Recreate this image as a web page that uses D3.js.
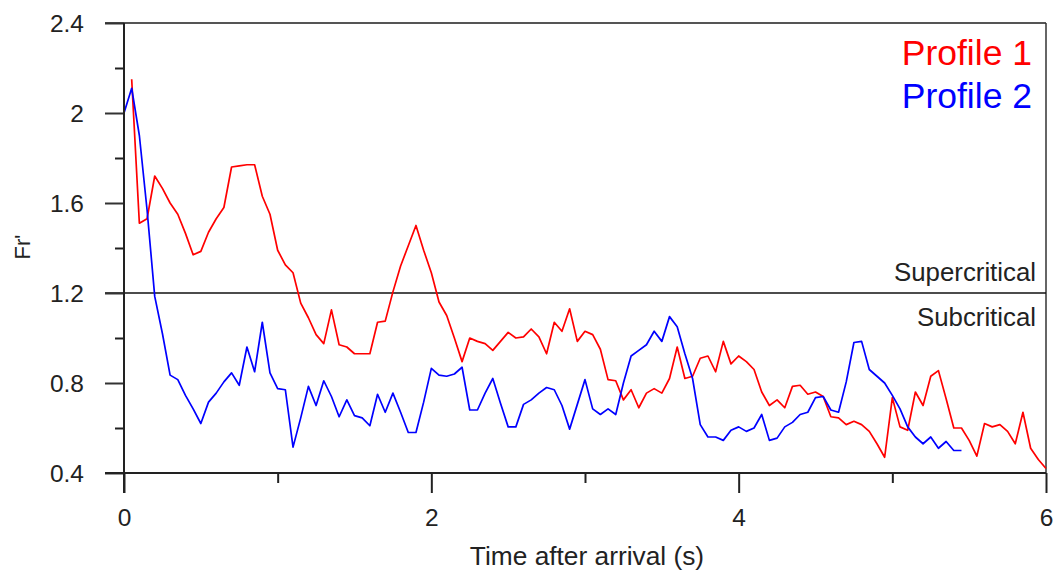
<!DOCTYPE html>
<html>
<head>
<meta charset="utf-8">
<script src="https://cdn.jsdelivr.net/npm/d3@7"></script>
<style>
  html, body { margin: 0; padding: 0; background: #fff; }
  svg { display: block; font-family: "Liberation Sans", Arial, sans-serif; }
</style>
</head>
<body>
<svg id="chart" width="1054" height="574"></svg>
<script>
// ---- data ----
const profile1Time = [0.05,0.10,0.15,0.20,0.25,0.30,0.35,0.40,0.45,0.50,0.55,0.60,0.65,0.70,0.75,0.80,0.85,0.90,0.95,1.00,
  1.05,1.10,1.15,1.20,1.25,1.30,1.35,1.40,1.45,1.50,1.55,1.60,1.65,1.70,1.75,1.80,1.85,1.90,1.95,2.00,
  2.05,2.10,2.15,2.20,2.25,2.30,2.35,2.40,2.45,2.50,2.55,2.60,2.65,2.70,2.75,2.80,2.85,2.90,2.95,3.00,
  3.05,3.10,3.15,3.20,3.25,3.30,3.35,3.40,3.45,3.50,3.55,3.60,3.65,3.70,3.75,3.80,3.85,3.90,3.95,4.00,
  4.05,4.10,4.15,4.20,4.25,4.30,4.35,4.40,4.45,4.50,4.55,4.60,4.65,4.70,4.75,4.80,4.85,4.90,4.95,5.00,
  5.05,5.10,5.15,5.20,5.25,5.30,5.35,5.40,5.45,5.50,5.55,5.60,5.65,5.70,5.75,5.80,5.85,5.90,5.95,6.00];
const profile1Values = [2.15,1.51,1.53,1.72,1.665,1.60,1.55,1.465,1.37,1.385,1.47,1.53,1.58,1.76,1.765,1.77,1.77,1.63,1.55,1.39,
  1.325,1.29,1.155,1.09,1.015,0.975,1.125,0.97,0.96,0.93,0.93,0.93,1.07,1.075,1.205,1.32,1.41,1.50,1.39,1.29,
  1.16,1.10,1.00,0.895,1.00,0.985,0.975,0.945,0.985,1.025,1.00,1.005,1.04,1.005,0.93,1.07,1.03,1.13,0.985,1.03,
  1.015,0.95,0.815,0.81,0.725,0.77,0.69,0.755,0.775,0.755,0.82,0.96,0.82,0.83,0.91,0.92,0.85,0.985,0.885,0.92,
  0.895,0.86,0.76,0.70,0.725,0.69,0.785,0.79,0.75,0.76,0.74,0.65,0.645,0.615,0.63,0.615,0.585,0.53,0.47,0.735,
  0.605,0.59,0.76,0.70,0.83,0.855,0.73,0.60,0.60,0.545,0.475,0.62,0.605,0.615,0.585,0.53,0.67,0.51,0.46,0.42];

const profile2Time = [0.00,0.05,0.10,0.15,0.20,0.25,0.30,0.35,0.40,0.45,0.50,0.55,0.60,0.65,0.70,0.75,0.80,0.85,0.90,0.95,1.00,
  1.05,1.10,1.15,1.20,1.25,1.30,1.35,1.40,1.45,1.50,1.55,1.60,1.65,1.70,1.75,1.80,1.85,1.90,1.95,2.00,
  2.05,2.10,2.15,2.20,2.25,2.30,2.35,2.40,2.45,2.50,2.55,2.60,2.65,2.70,2.75,2.80,2.85,2.90,2.95,3.00,
  3.05,3.10,3.15,3.20,3.25,3.30,3.35,3.40,3.45,3.50,3.55,3.60,3.65,3.70,3.75,3.80,3.85,3.90,3.95,4.00,
  4.05,4.10,4.15,4.20,4.25,4.30,4.35,4.40,4.45,4.50,4.55,4.60,4.65,4.70,4.75,4.80,4.85,4.90,4.95,5.00,
  5.05,5.10,5.15,5.20,5.25,5.30,5.35,5.40,5.45];
const profile2Values = [2.00,2.11,1.90,1.57,1.185,1.02,0.835,0.815,0.745,0.685,0.62,0.715,0.755,0.805,0.845,0.79,0.96,0.85,1.07,0.845,0.775,
  0.77,0.515,0.645,0.785,0.70,0.81,0.74,0.65,0.725,0.655,0.645,0.61,0.75,0.67,0.755,0.67,0.58,0.58,0.715,0.865,
  0.835,0.83,0.84,0.87,0.68,0.68,0.755,0.82,0.71,0.605,0.605,0.705,0.725,0.755,0.78,0.77,0.70,0.595,0.705,0.815,
  0.685,0.66,0.685,0.66,0.80,0.92,0.945,0.97,1.03,0.985,1.095,1.05,0.93,0.82,0.615,0.56,0.56,0.545,0.59,0.605,
  0.585,0.60,0.66,0.545,0.555,0.605,0.625,0.66,0.67,0.735,0.74,0.68,0.67,0.805,0.98,0.985,0.86,0.83,0.80,0.745,
  0.685,0.605,0.56,0.53,0.56,0.51,0.54,0.50,0.50];

const seriesNames = ["Profile 1", "Profile 2"];
const seriesColors = ["#ff0000", "#0000ff"];
const yTickValues = [0.4, 0.8, 1.2, 1.6, 2.0, 2.4];
const yTickLabels = ["0.4", "0.8", "1.2", "1.6", "2", "2.4"];
const yMinorTicks = [0.6, 1.0, 1.4, 1.8, 2.2];
const xTickValues = [0, 2, 4, 6];
const xMinorTicks = [1, 3, 5];
const criticalValue = 1.2;
const regionLabels = ["Supercritical", "Subcritical"];
const xTitle = "Time after arrival (s)";
const yTitle = "Fr'";

// ---- layout ----
const svg = d3.select("#chart");
const L = 124, R = 1046, T = 23, B = 473;
const x = d3.scaleLinear().domain([0, 6]).range([L, R]);
const y = d3.scaleLinear().domain([0.4, 2.4]).range([B, T]);
const font = "'Liberation Sans', Arial, sans-serif";

// frame: top & right
svg.append("line").attr("x1", 105).attr("x2", R).attr("y1", T).attr("y2", T)
  .attr("stroke", "#555").attr("stroke-width", 2);
svg.append("line").attr("x1", R).attr("x2", R).attr("y1", T).attr("y2", B)
  .attr("stroke", "#333").attr("stroke-width", 1.5);

// critical line
svg.append("line").attr("x1", 105).attr("x2", R).attr("y1", y(criticalValue)).attr("y2", y(criticalValue))
  .attr("stroke", "#111").attr("stroke-width", 1.5);

// y axis (major)
const yAxis = d3.axisLeft(y).tickValues(yTickValues).tickSize(19).tickPadding(21)
  .tickFormat((d, i) => yTickLabels[i]);
const gy = svg.append("g").attr("transform", `translate(${L},0)`).call(yAxis);
gy.select(".domain").remove();
gy.selectAll(".tick line").attr("stroke", "#333").attr("stroke-width", 2);
gy.selectAll(".tick text").attr("font-family", font).attr("font-size", 24.5).attr("fill", "#222")
  .attr("dy", "0.35em");
// minor y ticks
const yAxisMinor = d3.axisLeft(y).tickValues(yMinorTicks).tickSize(9).tickFormat("");
const gym = svg.append("g").attr("transform", `translate(${L},0)`).call(yAxisMinor);
gym.select(".domain").remove();
gym.selectAll(".tick line").attr("stroke", "#222").attr("stroke-width", 2);

// x axis (major)
const xAxis = d3.axisBottom(x).tickValues(xTickValues).tickSize(20).tickPadding(16)
  .tickFormat(d3.format("d"));
const gx = svg.append("g").attr("transform", `translate(0,${B})`).call(xAxis);
gx.select(".domain").remove();
gx.selectAll(".tick line").attr("stroke", "#222").attr("stroke-width", 2);
gx.selectAll(".tick text").attr("font-family", font).attr("font-size", 24.5).attr("fill", "#222");
const xAxisMinor = d3.axisBottom(x).tickValues(xMinorTicks).tickSize(10).tickFormat("");
const gxm = svg.append("g").attr("transform", `translate(0,${B})`).call(xAxisMinor);
gxm.select(".domain").remove();
gxm.selectAll(".tick line").attr("stroke", "#222").attr("stroke-width", 2);

// series lines
const line = d3.line().x(d => x(d[0])).y(d => y(d[1]));
const s1 = profile1Time.map((t, i) => [t, profile1Values[i]]);
const s2 = profile2Time.map((t, i) => [t, profile2Values[i]]);
[s1, s2].forEach((s, i) => {
  svg.append("path").datum(s).attr("d", line).attr("fill", "none")
    .attr("stroke", seriesColors[i]).attr("stroke-width", 1.7).attr("stroke-linejoin", "round");
});

// axis lines (left & bottom) on top
svg.append("line").attr("x1", L).attr("x2", L).attr("y1", T).attr("y2", B + 20)
  .attr("stroke", "#222").attr("stroke-width", 2);
svg.append("line").attr("x1", 105).attr("x2", R).attr("y1", B).attr("y2", B)
  .attr("stroke", "#222").attr("stroke-width", 2);

// legend
seriesNames.forEach((n, i) => {
  svg.append("text").attr("x", 1032).attr("y", 65 + i * 43).attr("text-anchor", "end")
    .attr("font-family", font).attr("font-size", 35.5).attr("fill", seriesColors[i]).text(n);
});

// region labels
svg.append("text").attr("x", 1036).attr("y", 281).attr("text-anchor", "end")
  .attr("font-family", font).attr("font-size", 25.8).attr("fill", "#222").text(regionLabels[0]);
svg.append("text").attr("x", 1036).attr("y", 326).attr("text-anchor", "end")
  .attr("font-family", font).attr("font-size", 25.8).attr("fill", "#222").text(regionLabels[1]);

// titles
svg.append("text").attr("x", (L + R) / 2 + 2).attr("y", 565).attr("text-anchor", "middle")
  .attr("font-family", font).attr("font-size", 26.3).attr("fill", "#222").text(xTitle);
svg.append("text").attr("transform", `translate(30,247) rotate(-90)`).attr("text-anchor", "middle")
  .attr("font-family", font).attr("font-size", 22).attr("fill", "#222").text(yTitle);
</script>
</body>
</html>
